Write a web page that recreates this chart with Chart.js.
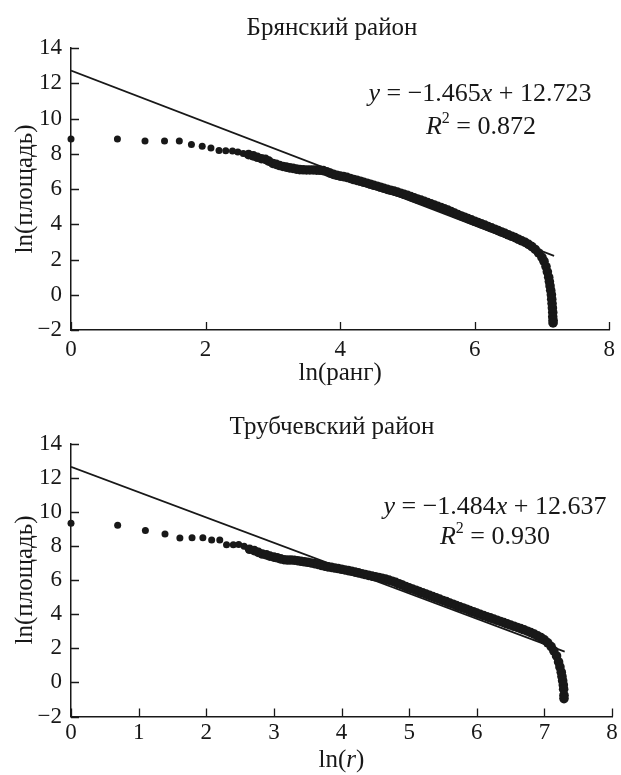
<!DOCTYPE html>
<html lang="ru">
<head>
  <meta charset="UTF-8">
  <title>ln(площадь) — ln(ранг)</title>
  <script src="https://cdn.jsdelivr.net/npm/chart.js"></script>
  <style>
    html, body { margin: 0; padding: 0; background: #fff; }
    .chart-box { position: relative; width: 621px; }
    #topBox { height: 390px; }
    #bottomBox { height: 385px; }
  </style>
</head>
<body>
  <div class="chart-box" id="topBox"><canvas id="bryanskChart"></canvas></div>
  <div class="chart-box" id="bottomBox"><canvas id="trubchevskChart"></canvas></div>

  <script>
    // --- Брянский район: ln(rank) / ln(area)
    const bryanskX = [
      0, 0.69, 1.10, 1.39, 1.61, 1.79, 1.95, 2.08, 2.20, 2.30, 2.40, 2.48, 2.56, 2.64, 2.71, 2.77, 2.83, 2.89, 2.94, 3.00,
      3.05, 3.10, 3.15, 3.20, 3.25, 3.30, 3.35, 3.40, 3.45, 3.50, 3.55, 3.60, 3.65, 3.70, 3.75, 3.80, 3.85, 3.90, 3.95, 4.00,
      4.05, 4.10, 4.15, 4.20, 4.25, 4.30, 4.35, 4.40, 4.45, 4.50, 4.55, 4.60, 4.65, 4.70, 4.75, 4.80, 4.85, 4.90, 4.95, 5.00,
      5.05, 5.10, 5.15, 5.20, 5.25, 5.30, 5.35, 5.40, 5.45, 5.50, 5.55, 5.60, 5.65, 5.70, 5.75, 5.80, 5.85, 5.90, 5.95, 6.00,
      6.05, 6.10, 6.15, 6.20, 6.25, 6.30, 6.35, 6.40, 6.45, 6.50, 6.55, 6.60, 6.65, 6.70, 6.75, 6.80, 6.85, 6.90, 6.95, 7.00,
      7.03, 7.06, 7.08, 7.10, 7.11, 7.12, 7.13, 7.14, 7.145, 7.15, 7.155, 7.16, 7.16, 7.165, 7.165
    ];
    const bryanskY = [
      8.84, 8.83, 8.72, 8.72, 8.72, 8.53, 8.42, 8.32, 8.18, 8.17, 8.16, 8.10, 8.02, 7.95, 7.88, 7.80, 7.72, 7.68, 7.58, 7.45,
      7.40, 7.33, 7.28, 7.24, 7.20, 7.17, 7.13, 7.10, 7.09, 7.08, 7.08, 7.08, 7.07, 7.06, 7.04, 6.98, 6.90, 6.83, 6.78, 6.73,
      6.70, 6.66, 6.60, 6.54, 6.49, 6.44, 6.38, 6.33, 6.27, 6.21, 6.16, 6.10, 6.04, 5.98, 5.93, 5.88, 5.82, 5.76, 5.70, 5.64,
      5.57, 5.50, 5.43, 5.37, 5.30, 5.23, 5.16, 5.09, 5.02, 4.95, 4.87, 4.80, 4.72, 4.63, 4.55, 4.47, 4.40, 4.32, 4.25, 4.17,
      4.10, 4.02, 3.95, 3.87, 3.80, 3.72, 3.64, 3.56, 3.48, 3.40, 3.32, 3.24, 3.15, 3.06, 2.97, 2.86, 2.73, 2.57, 2.37, 2.12,
      1.90, 1.60, 1.30, 1.00, 0.75, 0.50, 0.25, 0.00, -0.25, -0.50, -0.75, -1.00, -1.25, -1.45, -1.60
    ];
    const bryanskTrendX = [0, 7.18];
    const bryanskTrendY = [12.723, 2.204];

    // --- Трубчевский район
    const trubchevskX = [
      0, 0.69, 1.10, 1.39, 1.61, 1.79, 1.95, 2.08, 2.20, 2.30, 2.40, 2.48, 2.56, 2.64, 2.71, 2.77, 2.83, 2.89, 2.94, 3.00,
      3.05, 3.10, 3.15, 3.20, 3.25, 3.30, 3.35, 3.40, 3.45, 3.50, 3.55, 3.60, 3.65, 3.70, 3.75, 3.80, 3.85, 3.90, 3.95, 4.00,
      4.05, 4.10, 4.15, 4.20, 4.25, 4.30, 4.35, 4.40, 4.45, 4.50, 4.55, 4.60, 4.65, 4.70, 4.75, 4.80, 4.85, 4.90, 4.95, 5.00,
      5.05, 5.10, 5.15, 5.20, 5.25, 5.30, 5.35, 5.40, 5.45, 5.50, 5.55, 5.60, 5.65, 5.70, 5.75, 5.80, 5.85, 5.90, 5.95, 6.00,
      6.05, 6.10, 6.15, 6.20, 6.25, 6.30, 6.35, 6.40, 6.45, 6.50, 6.55, 6.60, 6.65, 6.70, 6.75, 6.80, 6.85, 6.90, 6.95, 7.00,
      7.05, 7.10, 7.14, 7.18, 7.21, 7.23, 7.25, 7.26, 7.27, 7.28, 7.285, 7.29, 7.29
    ];
    const trubchevskY = [
      9.33, 9.21, 8.90, 8.70, 8.46, 8.48, 8.48, 8.35, 8.35, 8.06, 8.06, 8.08, 7.98, 7.80, 7.72, 7.62, 7.52, 7.47, 7.40, 7.34,
      7.30, 7.24, 7.19, 7.17, 7.17, 7.16, 7.13, 7.10, 7.07, 7.04, 7.00, 6.96, 6.91, 6.86, 6.81, 6.77, 6.74, 6.70, 6.67, 6.63,
      6.59, 6.55, 6.51, 6.46, 6.42, 6.37, 6.32, 6.27, 6.23, 6.19, 6.15, 6.10, 6.05, 5.99, 5.93, 5.86, 5.78, 5.70, 5.62, 5.54,
      5.47, 5.40, 5.32, 5.25, 5.17, 5.10, 5.03, 4.95, 4.88, 4.80, 4.73, 4.65, 4.58, 4.50, 4.43, 4.36, 4.29, 4.21, 4.14, 4.06,
      3.99, 3.92, 3.85, 3.78, 3.71, 3.64, 3.57, 3.50, 3.43, 3.36, 3.29, 3.22, 3.15, 3.08, 3.00, 2.92, 2.83, 2.73, 2.62, 2.49,
      2.32, 2.10, 1.85, 1.55, 1.20, 0.90, 0.60, 0.35, 0.10, -0.15, -0.40, -0.75, -0.95
    ];
    const trubchevskTrendX = [0, 7.30];
    const trubchevskTrendY = [12.637, 1.804];

    // tick values
    const yTickValues = [-2, 0, 2, 4, 6, 8, 10, 12, 14];
    const bryanskXTicks = [0, 2, 4, 6, 8];
    const trubchevskXTicks = [0, 1, 2, 3, 4, 5, 6, 7, 8];

    const FONT = "'Liberation Serif', 'Times New Roman', serif";
    const INK = '#181818';

    const fmt = v => (v < 0 ? '\u2212' + Math.abs(v) : String(v));
    const toPoints = (xs, ys) => xs.map((x, i) => ({ x: x, y: ys[i] }));

    // tick marks pointing into the plot, like the printed figure
    const innerTicks = {
      id: 'innerTicks',
      afterDraw(chart) {
        const { ctx, chartArea: a } = chart;
        const x = chart.scales.x, y = chart.scales.y;
        ctx.save();
        ctx.strokeStyle = INK;
        ctx.lineWidth = 1.3;
        ctx.beginPath();
        x.ticks.forEach(t => {
          const px = Math.round(x.getPixelForValue(t.value)) + 0.5;
          ctx.moveTo(px, a.bottom);
          ctx.lineTo(px, a.bottom - 8);
        });
        y.ticks.forEach(t => {
          const py = Math.round(y.getPixelForValue(t.value)) + 0.5;
          ctx.moveTo(a.left, py);
          ctx.lineTo(a.left + 8, py);
        });
        ctx.stroke();
        ctx.restore();
      }
    };

    // headings, regression text and mixed italic labels
    const notes = {
      id: 'notes',
      afterDraw(chart, args, opts) {
        const ctx = chart.ctx;
        ctx.save();
        ctx.fillStyle = INK;
        ctx.textBaseline = 'middle';
        ctx.textAlign = 'left';
        (opts.lines || []).forEach(line => {
          const size = line.size;
          const fontFor = style => {
            if (style === 'i') return 'italic ' + size + 'px ' + FONT;
            if (style === 'sup') return Math.round(size * 0.62) + 'px ' + FONT;
            return size + 'px ' + FONT;
          };
          let total = 0;
          line.parts.forEach(p => { ctx.font = fontFor(p[1]); total += ctx.measureText(p[0]).width; });
          let cx = (line.x === 'center' ? (chart.chartArea.left + chart.chartArea.right) / 2 : line.x) - total / 2;
          line.parts.forEach(p => {
            ctx.font = fontFor(p[1]);
            const dy = p[1] === 'sup' ? -size * 0.32 : 0;
            ctx.fillText(p[0], cx, line.y + dy);
            cx += ctx.measureText(p[0]).width;
          });
        });
        ctx.restore();
      }
    };

    function makeChart(canvasId, cfg) {
      const tickFont = { family: FONT, size: 23 };
      const titleFont = { family: FONT, size: 25 };
      return new Chart(document.getElementById(canvasId), {
        type: 'scatter',
        data: {
          datasets: [
            {
              data: toPoints(cfg.xs, cfg.ys),
              backgroundColor: INK,
              borderWidth: 0,
              pointRadius: ctx => (ctx.raw && ctx.raw.x > 2.6 ? 4.8 : 3.5),
              pointHoverRadius: 0,
              clip: false
            },
            {
              type: 'line',
              data: toPoints(cfg.trendX, cfg.trendY),
              borderColor: INK,
              borderWidth: 1.7,
              pointRadius: 0,
              showLine: true,
              fill: false
            }
          ]
        },
        options: {
          responsive: true,
          maintainAspectRatio: false,
          animation: false,
          events: [],
          layout: { padding: { top: cfg.padTop, right: cfg.padRight, bottom: 0, left: 0 } },
          plugins: {
            legend: { display: false },
            tooltip: { enabled: false },
            title: { display: false },
            notes: { lines: cfg.lines }
          },
          scales: {
            x: {
              type: 'linear',
              min: 0,
              max: 8,
              afterBuildTicks: s => { s.ticks = cfg.xTicks.map(v => ({ value: v })); },
              afterFit: s => { s.height = cfg.xHeight; },
              ticks: { color: INK, font: tickFont, padding: cfg.xPad, maxRotation: 0, callback: v => fmt(v) },
              grid: { display: false, drawTicks: false },
              border: { display: true, color: INK, width: 1.5 },
              title: {
                display: cfg.xTitle !== null,
                text: cfg.xTitle || '',
                color: INK,
                font: titleFont,
                padding: { top: 0, bottom: 2 }
              }
            },
            y: {
              type: 'linear',
              min: -2,
              max: 14,
              afterBuildTicks: s => { s.ticks = yTickValues.map(v => ({ value: v })); },
              afterFit: s => { s.width = 71; },
              ticks: { color: INK, font: tickFont, padding: 9, callback: v => fmt(v) },
              grid: { display: false, drawTicks: false },
              border: { display: true, color: INK, width: 1.5 },
              title: {
                display: true,
                text: 'ln(площадь)',
                color: INK,
                font: titleFont,
                padding: { top: 10, bottom: 0 }
              }
            }
          }
        },
        plugins: [innerTicks, notes]
      });
    }

    makeChart('bryanskChart', {
      xs: bryanskX, ys: bryanskY, trendX: bryanskTrendX, trendY: bryanskTrendY,
      xTicks: bryanskXTicks, xTitle: 'ln(ранг)',
      padTop: 48, padRight: 8, xHeight: 60, xPad: 6,
      lines: [
        { x: 332, y: 28, size: 25, parts: [['Брянский район', '']] },
        { x: 480, y: 94, size: 26, parts: [['y', 'i'], [' = \u22121.465', ''], ['x', 'i'], [' + 12.723', '']] },
        { x: 481, y: 127, size: 26, parts: [['R', 'i'], ['2', 'sup'], [' = 0.872', '']] }
      ]
    });

    makeChart('trubchevskChart', {
      xs: trubchevskX, ys: trubchevskY, trendX: trubchevskTrendX, trendY: trubchevskTrendY,
      xTicks: trubchevskXTicks, xTitle: null,
      padTop: 53.5, padRight: 9, xHeight: 58.5, xPad: 3,
      lines: [
        { x: 332, y: 37, size: 25, parts: [['Трубчевский район', '']] },
        { x: 495, y: 117, size: 26, parts: [['y', 'i'], [' = \u22121.484', ''], ['x', 'i'], [' + 12.637', '']] },
        { x: 495, y: 147, size: 26, parts: [['R', 'i'], ['2', 'sup'], [' = 0.930', '']] },
        { x: 'center', y: 370, size: 25, parts: [['ln(', ''], ['r', 'i'], [')', '']] }
      ]
    });
  </script>
</body>
</html>
